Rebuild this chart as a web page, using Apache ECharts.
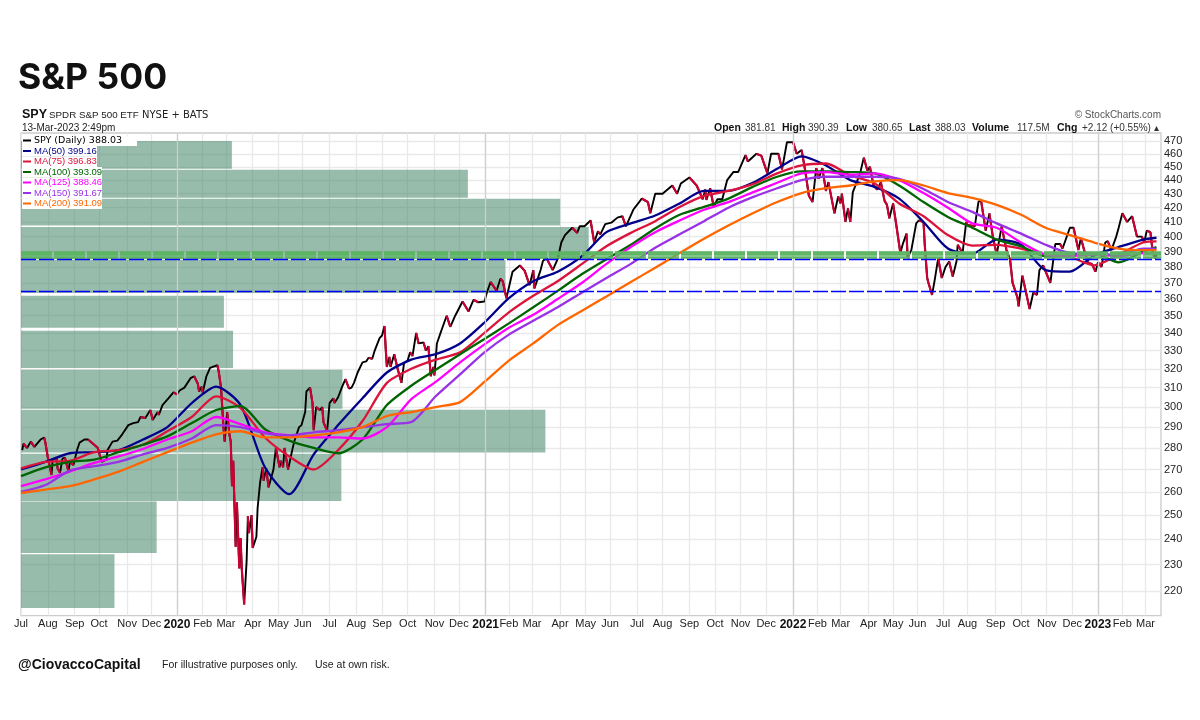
<!DOCTYPE html>
<html><head><meta charset="utf-8">
<script src="https://cdn.jsdelivr.net/npm/echarts@6/dist/echarts.min.js"></script>
<style>html,body{margin:0;padding:0;background:#fff}#c{width:1200px;height:720px}</style>
</head><body><div id="c"></div>
<script>
// ---------- data ----------
const monthDays=[0,22,44,64,87,107,128,149,168,190,211,231,253,275,296,317,339,359,381,400,419,442,463,483,505,526,548,569,590,611,633,653,672,695,715,735,756,776,799,820,841,862,883,903,922];
const monthLabels=['Jul','Aug','Sep','Oct','Nov','Dec','2020','Feb','Mar','Apr','May','Jun','Jul','Aug','Sep','Oct','Nov','Dec','2021','Feb','Mar','Apr','May','Jun','Jul','Aug','Sep','Oct','Nov','Dec','2022','Feb','Mar','Apr','May','Jun','Jul','Aug','Sep','Oct','Nov','Dec','2023','Feb','Mar'];
const priceTicks=[220,230,240,250,260,270,280,290,300,310,320,330,340,350,360,370,380,390,400,410,420,430,440,450,460,470];

const spyDays=[1,2,5,8,11,16,19,20,22,25,26,29,30,32,34,36,39,40,43,46,
48,52,55,60,63,66,70,71,75,79,83,88,92,96,98,102,106,108,112,113,
116,121,125,128,130,134,139,142,145,146,148,149,152,155,161,162,164,166,167,169,
171,172,173,174,176,177,179,180,181,183,185,186,187,189,190,193,194,196,198,199,
201,203,207,209,212,213,215,216,219,222,224,228,230,233,234,237,239,240,242,245,
247,248,251,253,256,257,260,263,266,269,271,273,276,280,283,285,288,290,294,296,
298,299,300,302,303,306,309,312,314,317,319,321,324,326,330,332,334,336,338,339,
341,344,346,349,352,356,362,367,371,375,380,382,385,390,393,395,398,403,409,413,
417,420,421,426,428,431,434,436,440,443,446,452,456,458,462,467,470,473,475,479,
484,489,493,496,502,509,514,516,520,526,534,538,541,548,554,559,561,562,565,568,
571,575,579,584,588,594,596,603,607,612,615,617,621,624,628,633,636,640,643,646,
649,652,654,657,660,662,667,670,672,673,676,678,680,682,688,691,694,696,699,702,
705,708,710,712,715,718,721,723,726,727,728,730,734,736,740,741,743,744,747,749,
752,755,758,761,764,767,768,772,775,776,782,785,787,791,794,797,800,804,808,811,
813,817,818,821,827,830,833,835,838,844,848,852,854,860,863,867,869,872,875,878,
881,883,886,889,891,894,898,900,903,907,911,915,919,921,923,926,928,930,931];
const spyValues=[279,282,280,283,280.5,284,285,282.5,275.5,267.5,274.5,275.5,270.5,268.5,275,275.5,269,273.5,272,279,
282.5,284,284,281.5,280,273.5,274.5,279,283,283.5,286.5,291,292,292.5,295,294.5,298.5,293.5,297.5,296,
301,304.5,307.5,306.5,308.5,310,315,316,312,308,310.5,307.5,316,320.5,322,319,310,290,283,297.5,
286,283,262.5,274,237,255.5,228.5,240.5,228.5,215,231.5,249.5,242.5,250,236.5,241,253,264,271,265,
270.5,262,270,280,271,274,271,280,270,278,283,290,291,297.5,308,310,302,288.5,300,298.5,
300,292.5,288,302,304.5,302,305,310,314.5,309.5,310,312.5,318,323.5,324,326,325.5,330,337,338.5,
344,331.5,321,326.5,321,328,319.5,312.5,323,324.5,329,327,340,334,334.5,330,332.5,316,321,316.5,
334,340,344,350,343.5,350,358.5,352.5,359.5,358,358.5,364,370.5,365,372.5,371,360.5,377,381,377.5,
368.5,378,366.5,378,384,385.5,381,378,385,396,401,406,402.5,407,407,411,396,403.5,401.5,408.5,
409.5,413,414,407,418.5,426.5,424,416,430,430,436,430,437.5,442,436,426,433,425.5,434,420.5,
426,426,440,446,446,459,454,460,458.5,445,460,460,460,448,469,469,460,463,447,428.5,
424,449,441,449,432,438.5,416,428,423,430,410,419.5,410,431,445,457,447,450,436,433,
438.5,425,422,412.5,423,406,389,395,402,386,385.5,391,409,411,410,394.5,373,370,362.5,371,
385.5,373,380,383.5,374,383.5,394.5,389,410,408,407,424,426,404,416,399,388,407,391,384.5,
370,361,355.5,374.5,354,364,362.5,378,381,370,395,395,392,406,406,391,399,390,382.5,382,
377,383,380,396,397,391,400,406,416,410,414,400,400,396,404,403,389,385.5,388];

const maDays=[0,20,40,60,80,100,120,140,160,180,200,220,240,260,280,300,320,340,360,380,400,420,440,460,480,500,520,540,560,580,600,620,640,660,680,700,720,740,760,780,800,820,840,860,880,900,920,931];
const ma50=[270,273.5,277.5,278,279,284,290,302,310.5,301,271,259,277,291,304.5,318,325,328,334,346,360.5,371,377,387,403,409,414.5,423,432,432,438,448.5,458,451,440,435,426.5,410,392,388.5,398,394.5,378,377,387.5,393,398,399.2];
const ma75=[270.5,273.5,274,278,279,281.5,288,295,305.5,299.5,285,276,270,279,293,312.5,320,325,329,340,352,362,371,382,393.5,402.5,410.5,420.5,428.5,432,437,445,451,452.5,443.5,437.5,423,414,401,394,394.5,392,388,386.5,381,388,396,396.8];
const ma100=[267,271,273.5,274.5,278,281.5,285.5,292,298.5,300.5,289,283.5,280,277.5,284,301,311,319.5,328,336.5,345.5,355,365,375.5,385,394.5,405.5,415,420.5,426.5,435,442.5,446.5,446.5,446,445,436,424,413.5,406,398,393.5,387,388,388.5,383,390,393];
const ma125=[262.5,265.5,269,273,276,279.5,284,288,295,291.5,287.5,286,285,285,284.5,290,304,313,323.5,333.5,343,350.5,360,370,382,393,403,411,418.5,424,431,438,445,446,444,445,440,430.5,420,409,406,396,388,387,388,387,389,388.5];
const ma150=[260,263,269.5,271.5,273.5,277,280,284.5,291,290,287,286,287.5,288.5,290,291.5,292.5,305.5,317,329,339,347,355,364,373,382,392.5,401.5,410.5,420,427.5,434,440,442.5,442.5,442.5,441,433.5,424,417,409,402,394.5,389,388.5,388,392,392];
const ma200=[259.5,261,262.5,265.5,269,273.5,278,282.5,286.5,288,285,285,286,287.5,290,295.5,297.5,300,302.5,313,324.5,334,344.5,353,361.5,370.5,379.5,389,398.5,407.5,416,424,430.5,434,436,439,440,436,430.5,427,422,415,406,401,396,392,391,391];

const legendSpy='SPY (Daily) 388.03';
const legendMA=['MA(50) 399.16','MA(75) 396.83','MA(100) 393.09','MA(125) 388.46','MA(150) 391.67','MA(200) 391.09'];

// volume-by-price: [low price, high price, share of the axis]
const volLow=[448.5,427,407.5,385.2,363.7,343,320.5,299.2,277.8,256,234.5,213.7];
const volHigh=[470,447.7,426.4,406.5,384.6,362,341.2,319.5,298.7,277.3,255.8,234];
const volShare=[18.5,39.2,47.3,49.8,42.5,17.8,18.6,28.2,46,28.1,11.9,8.2];

const bandLevels=[389.7,388,386.4];
const supportLevels=[385,365];
const yearDays=[128,381,633,883];

// ---------- build ----------
const colors={spy:'#000000',down:'#cc0033',ma:['#00008b','#dc143c','#006400','#ff00ff','#9932e6','#ff6600']};
const maSeries=[ma50,ma75,ma100,ma125,ma150,ma200];
const FONT='"Liberation Sans",Arial,sans-serif';

const spyPts=spyDays.map((d,i)=>[d,spyValues[i]]);
const spyDown=[];
for(let i=1;i<spyPts.length;i++){
  if(spyValues[i]<spyValues[i-1]){spyDown.push(spyPts[i-1],spyPts[i],[spyDays[i],null]);}
}
const labelOf={};monthDays.forEach((d,i)=>labelOf[d]=monthLabels[i]);

const series=[
 {type:'custom',name:'Volume by price',xAxisIndex:1,yAxisIndex:0,silent:true,z:1,clip:true,
  encode:{x:2,y:[0,1]},
  data:volLow.map((v,i)=>[v,volHigh[i],volShare[i]]),
  renderItem:(p,api)=>{
    const a=api.coord([0,api.value(0)]),b=api.coord([api.value(2),api.value(1)]);
    return {type:'rect',shape:{x:a[0],y:b[1],width:b[0]-a[0],height:a[1]-b[1]},style:{fill:'rgba(68,133,102,0.55)'}};
  }},
 {type:'line',name:'levels',data:[],silent:true,z:2,symbol:'none',
  markLine:{silent:true,symbol:'none',animation:false,label:{show:false},
   data:[
    ...yearDays.map(d=>({xAxis:d,lineStyle:{color:'#cfcfcf',width:1.3,type:'solid'}})),
    ...bandLevels.map(v=>({yAxis:v,lineStyle:{color:'#5cb562',width:2.6,type:[31,2]}})),
    ...supportLevels.map(v=>({yAxis:v,lineStyle:{color:'#0000ff',width:1.3,type:[15,3]}}))
   ]}},
 {type:'line',name:legendSpy,data:spyPts,symbol:'none',z:3,lineStyle:{color:colors.spy,width:1.9},itemStyle:{color:colors.spy},animation:false},
 {type:'line',name:'SPY down',data:spyDown,symbol:'none',z:3,connectNulls:false,lineStyle:{color:colors.down,width:2.2},animation:false},
 ...maSeries.map((vals,k)=>({type:'line',name:legendMA[k],data:maDays.map((d,i)=>[d,vals[i]]),symbol:'none',smooth:0.25,z:4,
   lineStyle:{color:colors.ma[k],width:2.3},itemStyle:{color:colors.ma[k]},animation:false}))
];

const legendRows=[[legendSpy,colors.spy,115,'"DejaVu Sans"'],...legendMA.map((n,k)=>[n,colors.ma[k],k<2?75:80,FONT])];
const txt=(x,y,text,o)=>({type:'text',x,y,z:10,silent:true,style:Object.assign({text,fill:'#111',font:'10px '+FONT,textVerticalAlign:'middle'},o||{})});

const option={
 animation:false,backgroundColor:'#fff',textStyle:{fontFamily:FONT},
 grid:{left:21,top:133,width:1140,height:482.6,show:true,borderColor:'#cccccc',borderWidth:1.3,backgroundColor:'transparent'},
 xAxis:[
  {type:'value',min:0,max:934.7,axisLine:{show:false},
   axisTick:{show:false,customValues:monthDays},
   splitLine:{show:true,lineStyle:{color:'#e9e9e9',width:1.3}},
   axisLabel:{show:true,customValues:monthDays,hideOverlap:false,margin:3,color:'#222',fontSize:11,fontFamily:FONT,
     formatter:v=>{const s=labelOf[v];return /^20/.test(s)?'{y|'+s+'}':s;},
     rich:{y:{fontWeight:'bold',fontSize:12,color:'#111',fontFamily:FONT}}}},
  {type:'value',min:0,max:100,show:false}
 ],
 yAxis:[{type:'log',logBase:10,min:211,max:476.4,position:'right',axisLine:{show:false},
   axisTick:{show:false,customValues:priceTicks},
   splitLine:{show:true,lineStyle:{color:'#e9e9e9',width:1.3}},
   minorSplitLine:{show:false},
   axisLabel:{show:true,customValues:priceTicks,margin:3,color:'#222',fontSize:11,fontFamily:FONT,hideOverlap:false,formatter:v=>String(Math.round(v))}}],
 legend:{show:true,orient:'vertical',left:23,top:135.5,z:5,itemWidth:8,itemHeight:2,itemGap:0.5,padding:0,icon:'rect',selectedMode:false,
   data:legendRows.map(r=>({name:r[0],itemStyle:{color:r[1]},lineStyle:{opacity:0},textStyle:{color:r[1],fontFamily:r[3],fontSize:9.5,lineHeight:10}})),
   textStyle:{padding:[0,0,0,-2]}},
 series,
 graphic:{elements:[
  ...legendRows.map((r,i)=>({type:'rect',z:3,silent:true,shape:{x:22,y:135.5+i*10.5,width:r[2],height:10.5},style:{fill:'#fff'}})),
  txt(18,78,'S&P 500',{font:'700 35.5px Inter,"Open Sans",sans-serif',fill:'#111'}),
  txt(22,115,'SPY',{font:'bold 12.5px '+FONT,fill:'#111'}),
  txt(49,115,'SPDR S&P 500 ETF',{font:'9.8px '+FONT,fill:'#222'}),
  txt(142,115,'NYSE + BATS',{font:'10px "DejaVu Sans"',fill:'#222'}),
  txt(22,128,'13-Mar-2023 2:49pm',{font:'10px '+FONT,fill:'#222'}),
  txt(1161,115,'© StockCharts.com',{font:'10px '+FONT,fill:'#555',textAlign:'right'}),
  txt(714,128,'Open',{font:'bold 10.5px '+FONT}),txt(745,128,'381.81',{font:'10px '+FONT,fill:'#333'}),
  txt(782,128,'High',{font:'bold 10.5px '+FONT}),txt(808,128,'390.39',{font:'10px '+FONT,fill:'#333'}),
  txt(846,128,'Low',{font:'bold 10.5px '+FONT}),txt(872,128,'380.65',{font:'10px '+FONT,fill:'#333'}),
  txt(909,128,'Last',{font:'bold 10.5px '+FONT}),txt(935,128,'388.03',{font:'10px '+FONT,fill:'#333'}),
  txt(972,128,'Volume',{font:'bold 10.5px '+FONT}),txt(1017,128,'117.5M',{font:'10px '+FONT,fill:'#333'}),
  txt(1057,128,'Chg',{font:'bold 10.5px '+FONT}),txt(1082,128,'+2.12 (+0.55%) ▴',{font:'10px '+FONT,fill:'#333'}),
  txt(18,665,'@CiovaccoCapital',{font:'bold 14px '+FONT,fill:'#111'}),
  txt(162,665,'For illustrative purposes only.',{font:'10.5px '+FONT,fill:'#222'}),
  txt(315,665,'Use at own risk.',{font:'10.5px '+FONT,fill:'#222'})
 ]}
};
const chart=echarts.init(document.getElementById('c'),null,{renderer:'canvas',width:1200,height:720});
chart.setOption(option);
</script></body></html>
